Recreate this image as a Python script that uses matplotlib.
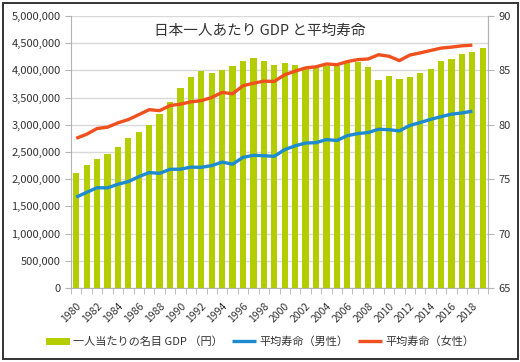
import matplotlib
matplotlib.use("Agg")
import matplotlib.pyplot as plt
from matplotlib.patches import Rectangle

plt.rcParams['font.family'] = ['Noto Sans CJK JP', 'DejaVu Sans']

# Data
years = list(range(1980, 2020))
gdp = [2120000, 2270000, 2370000, 2460000, 2590000, 2750000, 2870000, 3000000,
       3200000, 3420000, 3670000, 3880000, 3980000, 3960000, 4010000, 4080000,
       4170000, 4230000, 4170000, 4100000, 4140000, 4100000, 4020000, 4040000,
       4080000, 4080000, 4130000, 4160000, 4070000, 3820000, 3900000, 3840000,
       3870000, 3950000, 4030000, 4170000, 4210000, 4300000, 4330000, 4410000]
life_years = list(range(1980, 2019))
male = [73.35, 73.79, 74.22, 74.20, 74.54, 74.78, 75.23, 75.61, 75.54, 75.91,
        75.92, 76.11, 76.09, 76.25, 76.57, 76.38, 77.01, 77.19, 77.16, 77.10,
        77.72, 78.07, 78.32, 78.36, 78.64, 78.56, 79.00, 79.19, 79.29, 79.59,
        79.55, 79.44, 79.94, 80.21, 80.50, 80.75, 80.98, 81.09, 81.25]
female = [78.76, 79.13, 79.66, 79.78, 80.18, 80.48, 80.93, 81.39, 81.30, 81.77,
          81.90, 82.11, 82.22, 82.51, 82.98, 82.85, 83.59, 83.82, 84.01, 83.99,
          84.60, 84.93, 85.23, 85.33, 85.59, 85.52, 85.81, 85.99, 86.05, 86.44,
          86.30, 85.90, 86.41, 86.61, 86.83, 87.05, 87.14, 87.26, 87.32]

title = "日本一人あたり GDP と平均寿命"
label_gdp = "一人当たりの名目 GDP （円）"
label_male = "平均寿命（男性）"
label_female = "平均寿命（女性）"

W, H = 520, 362
fig = plt.figure(figsize=(W / 100, H / 100), dpi=100)
ax = fig.add_axes([71 / W, 1 - 288 / H, (488 - 71) / W, (288 - 16) / H])

grid_c = '#d9d9d9'
axis_c = '#b3b3b3'

x = list(range(len(years)))
bars = ax.bar(x, gdp, width=0.6, color='#b3cd00', zorder=2)
ax.set_xlim(-0.5, len(years) - 0.5)
ax.set_ylim(0, 5000000)
ax.set_yticks(range(0, 5000001, 500000))
ax.set_yticklabels([f"{v:,}" for v in range(0, 5000001, 500000)])
ax.yaxis.grid(True, color=grid_c, linewidth=1)
ax.set_axisbelow(True)

# x ticks: marks at bar boundaries, labels every 2 years
ax.set_xticks([i - 0.5 for i in range(len(years) + 1)], minor=True)
ax.set_xticks(x[::2])
ax.set_xticklabels([str(y) for y in years[::2]], rotation=45, ha='right',
                   rotation_mode='anchor', fontsize=7.5, color='#333333')
ax.tick_params(axis='x', which='major', length=0, pad=9)
ax.tick_params(axis='x', which='minor', length=4, color=axis_c)
ax.tick_params(axis='y', length=4, color=axis_c, labelsize=8, labelcolor='#333333')

ax.spines['top'].set_visible(False)
for s in ['left', 'right', 'bottom']:
    ax.spines[s].set_color(axis_c)

ax2 = ax.twinx()
lx = list(range(len(life_years)))
l1, = ax2.plot(lx, male, color='#1e8bd0', linewidth=2.4, solid_capstyle='butt', zorder=3)
l2, = ax2.plot(lx, female, color='#f0501e', linewidth=2.4, solid_capstyle='butt', zorder=3)
ax2.set_ylim(65, 90)
ax2.set_yticks(range(65, 91, 5))
ax2.tick_params(axis='y', length=4, color=axis_c, labelsize=8, labelcolor='#333333')
for s in ['top', 'left', 'bottom']:
    ax2.spines[s].set_visible(False)
ax2.spines['right'].set_color(axis_c)

fig.text(0.5, 1 - 31 / H, title, ha='center', va='center', fontsize=10.5, color='#333333')

fig.legend([bars, l1, l2], [label_gdp, label_male, label_female],
           loc='center', bbox_to_anchor=(0.5, 1 - 342 / H), ncol=3,
           frameon=False, fontsize=8, handlelength=2.2, handletextpad=0.3,
           columnspacing=0.8, labelcolor='#333333')

fig.patches.append(Rectangle((2.5 / W, 3.5 / H), (W - 5) / W, (H - 6) / H,
                             transform=fig.transFigure, fill=False,
                             edgecolor='#333333', linewidth=1.4))

fig.savefig("out.png", dpi=100)
